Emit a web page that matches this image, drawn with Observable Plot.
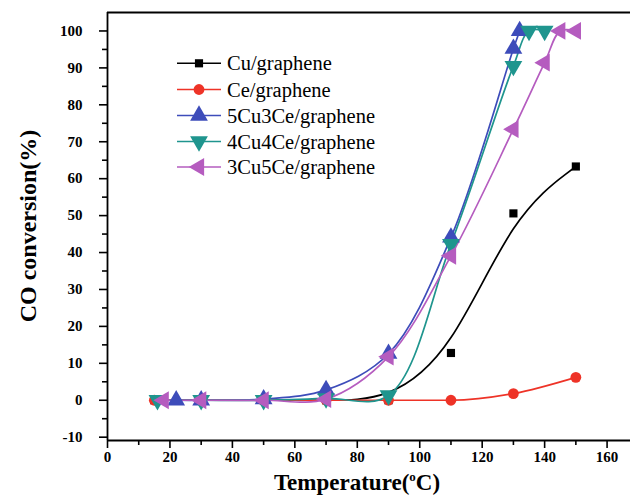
<!DOCTYPE html>
<html><head><meta charset="utf-8">
<script src="https://cdn.jsdelivr.net/npm/d3@7"></script>
<script src="https://cdn.jsdelivr.net/npm/@observablehq/plot@0.6"></script>
<style>body{margin:0;background:#fff} svg{display:block}</style>
</head><body><div id="chart"></div>
<script>
// ---- data ----
const seriesNames = ["Cu/graphene", "Ce/graphene", "5Cu3Ce/graphene", "4Cu4Ce/graphene", "3Cu5Ce/graphene"];
const cuTemp = [15, 30, 50, 70, 90, 110, 130, 150];
const cuConv = [0, 0, 0, 0, 0, 12.8, 50.6, 63.3];
const ceTemp = [15, 30, 50, 70, 90, 110, 130, 150];
const ceConv = [0, 0, 0, 0, 0, 0, 1.8, 6.2];
const cu5ce3Temp = [22, 30, 50, 70, 90, 110, 130, 132];
const cu5ce3Conv = [0, 0, 0.3, 2.8, 12.6, 44.1, 95.2, 100];
const cu4ce4Temp = [16, 30, 50, 70, 90, 110, 130, 135, 140];
const cu4ce4Conv = [0, 0, 0, 0.5, 1.3, 42.3, 90.5, 100, 100];
const cu3ce5Temp = [18, 30, 50, 70, 90, 110, 130, 140, 145, 150];
const cu3ce5Conv = [0, 0, 0, 0.3, 11.8, 39.1, 73.4, 91.4, 100, 100];
const xTicks = [0, 20, 40, 60, 80, 100, 120, 140, 160];
const xMinorTicks = [10, 30, 50, 70, 90, 110, 130, 150];
const yTicks = [-10, 0, 10, 20, 30, 40, 50, 60, 70, 80, 90, 100];
const yMinorTicks = [-5, 5, 15, 25, 35, 45, 55, 65, 75, 85, 95];

// ---- styles ----
const colors = ["#000000", "#ee3327", "#3d4cba", "#1f958e", "#b55cbf"];
const curves = ["basis", "monotone-x", "catmull-rom", "catmull-rom", "catmull-rom"];
function tri(deg) {
  return {draw(ctx, size) {
    const R = Math.sqrt(size / (3 * Math.sqrt(3) / 4));
    for (let i = 0; i < 3; i++) {
      const a = (deg + 120 * i) * Math.PI / 180;
      const x = R * Math.cos(a), y = R * Math.sin(a);
      if (i) ctx.lineTo(x, y); else ctx.moveTo(x, y);
    }
    ctx.closePath();
  }};
}
const symbols = [d3.symbolSquare, d3.symbolCircle, tri(-90), tri(90), tri(180)];
const radii = [4.6, 5.4, 6.6, 6.6, 6.6];

const temps = [cuTemp, ceTemp, cu5ce3Temp, cu4ce4Temp, cu3ce5Temp];
const convs = [cuConv, ceConv, cu5ce3Conv, cu4ce4Conv, cu3ce5Conv];
const series = seriesNames.map((name, i) => temps[i].map((t, j) => ({name, t, v: convs[i][j]})));

const font = "'Liberation Serif', 'Times New Roman', serif";
const marks = [];
series.forEach((rows, i) => {
  marks.push(Plot.line(rows, {x: "t", y: "v", stroke: colors[i], strokeWidth: 1.7, curve: curves[i]}));
});
series.forEach((rows, i) => {
  marks.push(Plot.dot(rows, {x: "t", y: "v", fill: colors[i], stroke: "none", symbol: symbols[i], r: radii[i]}));
});

const yMin = -10.9, yMax = 105, xMin = 0, xMax = 167.5;
const chart = Plot.plot({
  width: 630, height: 500,
  marginLeft: 107, marginRight: 0, marginTop: 12, marginBottom: 60,
  style: {fontFamily: font, background: "#fff", color: "#000"},
  x: {domain: [xMin, xMax]},
  y: {domain: [yMin, yMax]},
  marks: [
    Plot.axisX({ticks: xMinorTicks, tickSize: 5, tickFormat: () => "", label: null, strokeWidth: 1.6}),
    Plot.axisX({ticks: xTicks, tickSize: 8, tickPadding: 3, tickFormat: d => String(d), label: null, fontSize: 15, fontWeight: "bold", strokeWidth: 1.6}),
    Plot.axisY({ticks: yMinorTicks, tickSize: 5, tickFormat: () => "", label: null, strokeWidth: 1.6}),
    Plot.axisY({ticks: yTicks, tickSize: 8, tickPadding: 17, tickFormat: d => String(d), label: null, fontSize: 15, fontWeight: "bold", strokeWidth: 1.6}),
    Plot.ruleY([yMin], {strokeWidth: 1.8}),
    Plot.ruleY([yMax], {strokeWidth: 1.8}),
    Plot.ruleX([xMin], {strokeWidth: 1.8}),
    ...marks
  ]
});
document.getElementById("chart").append(chart);

// ---- axis titles and legend ----
const svg = d3.select(chart);
const xt = svg.append("text").attr("x", 357).attr("y", 490).attr("text-anchor", "middle")
  .attr("font-family", font).attr("font-weight", "bold").attr("font-size", 23).attr("fill", "#000");
xt.append("tspan").text("Temperature(");
xt.append("tspan").text("o").attr("font-size", 13).attr("dy", -9);
xt.append("tspan").text("C)").attr("dy", 9);
svg.append("text").attr("transform", "translate(36,226) rotate(-90)").attr("text-anchor", "middle")
  .attr("font-family", font).attr("font-weight", "bold").attr("font-size", 24).attr("fill", "#000")
  .text("CO conversion(%)");

const legendRowsY = [63.3, 89.5, 115.5, 141.5, 167];
const lg = svg.append("g");
seriesNames.forEach((name, i) => {
  const y = legendRowsY[i];
  lg.append("line").attr("x1", 177).attr("x2", 221).attr("y1", y).attr("y2", y)
    .attr("stroke", colors[i]).attr("stroke-width", 1.6);
  lg.append("path").attr("transform", `translate(199,${y})`)
    .attr("d", d3.symbol(symbols[i], Math.PI * radii[i] * radii[i])()).attr("fill", colors[i]);
  lg.append("text").attr("x", 227).attr("y", y).attr("dy", "0.35em").attr("text-anchor", "start")
    .attr("font-family", font).attr("font-size", 20.5).attr("fill", "#000").text(name);
});
</script>
</body></html>
